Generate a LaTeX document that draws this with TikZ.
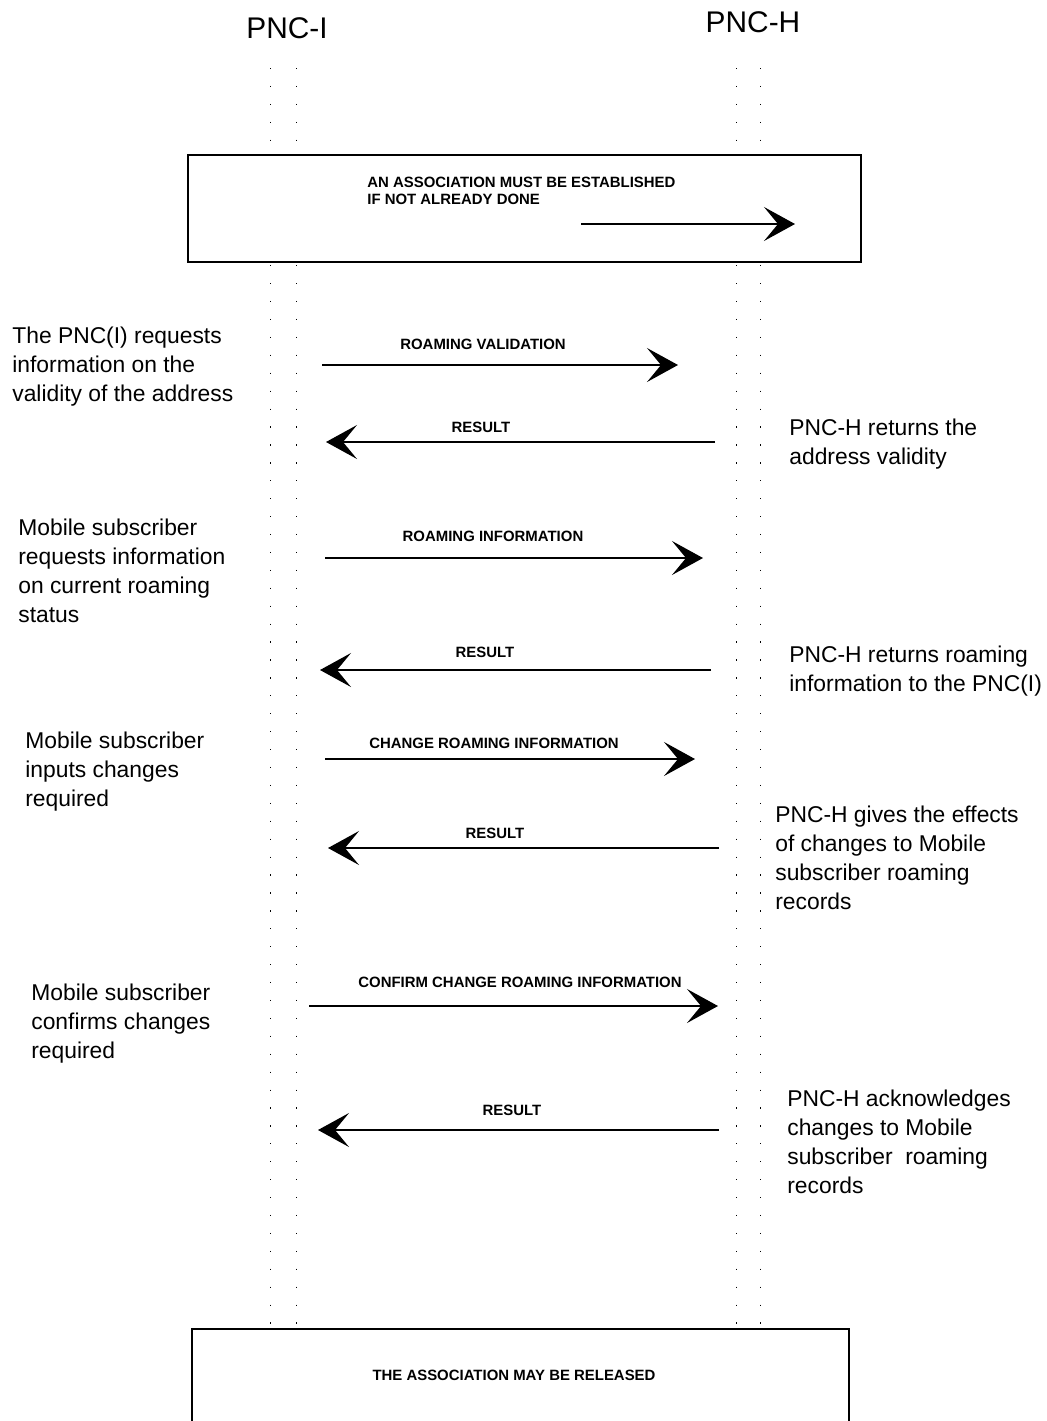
\documentclass[tikz,border=0pt]{standalone}
\usepackage{fontspec}
\setmainfont{Liberation Sans}
\usetikzlibrary{arrows.meta,positioning}

\begin{document}
\begin{tikzpicture}[x=0.02cm,y=-0.02cm,
 life/.style={line width=0.5pt,dash pattern=on 0.7pt off 9.5pt},
 box/.style={draw,line width=0.7pt,fill=white},
 msg/.style={-{Stealth[length=6.2mm,width=6.8mm,inset=2.8mm]},line width=0.8pt},
 lbl/.style={inner sep=0pt,font=\fontsize{8.5}{10}\selectfont\bfseries},
 side/.style={align=left,anchor=north west,inner sep=0pt,font=\fontsize{13}{16.5}\selectfont},
 head/.style={inner sep=0pt,font=\fontsize{17}{20}\selectfont}]
\useasboundingbox (0,0) rectangle (1047,1421);
% lifelines
\node[head] (pnci) at (287,28) {PNC-I};
\node[head] (pnch) at (753,22) {PNC-H};
\foreach \id/\x in {ia/270,ib/296,ha/736,hb/760}{
\coordinate (\id-t) at (\x,68); \coordinate (\id-b) at (\x,1329);
\draw[life] (\id-t)--(\id-b);}
% association
\node[box,minimum width=13.46cm,minimum height=2.14cm] (estab) at (524.5,208.5) {};
\node[lbl,align=left,anchor=north west,font=\fontsize{8.5}{9.5}\selectfont\bfseries] (estab-txt) at (367,177)
 {AN ASSOCIATION MUST BE ESTABLISHED\\IF NOT ALREADY DONE};
\coordinate (estab-a) at (581,224); \coordinate (estab-b) at (795,224);
\draw[msg] (estab-a)--(estab-b);
% messages
\foreach \id/\y/\xa/\xb/\xl/\yl/\txt in {
 rv/365/322/678/483/344/ROAMING VALIDATION,
 ra/442/715/326/481/427/RESULT,
 ri/558/325/703/493/536/ROAMING INFORMATION,
 rb/670/711/320/485/652/RESULT,
 cri/759/325/695/494/743/CHANGE ROAMING INFORMATION,
 rc/848/719/328/495/833/RESULT,
 ccri/1006/309/718/520/982/CONFIRM CHANGE ROAMING INFORMATION,
 rd/1130/719/318/512/1110/RESULT}{
\coordinate (\id-a) at (\xa,\y); \coordinate (\id-b) at (\xb,\y);
\draw[msg] (\id-a)--(\id-b);
\node[lbl] (\id-l) at (\xl,\yl) {\txt};}
% notes
\node[side] (n1) at (12,327) {The PNC(I) requests\\information on the\\validity of the address};
\node[side] (n2) at (18,519) {Mobile subscriber\\requests information\\on current roaming\\status};
\node[side] (n3) at (25,732) {Mobile subscriber\\inputs changes\\required};
\node[side] (n4) at (31,984) {Mobile subscriber\\confirms changes\\required};
\node[side] (m1) at (789,419) {PNC-H returns the\\address validity};
\node[side] (m2) at (789,646) {PNC-H returns roaming\\information to the PNC(I)};
\node[side] (m3) at (775,806) {PNC-H gives the effects\\of changes to Mobile\\subscriber roaming\\records};
\node[side] (m4) at (787,1090) {PNC-H acknowledges\\changes to Mobile\\subscriber\ \ roaming\\records};
% release
\coordinate (rel-bl) at (192,1425); \coordinate (rel-tr) at (849,1329); \coordinate (rel-br) at (849,1425);
\draw[box] (rel-bl) |- (rel-tr) -- (rel-br);
\node[lbl] (rel-txt) at (514,1375) {THE ASSOCIATION MAY BE RELEASED};
\end{tikzpicture}
\end{document}
